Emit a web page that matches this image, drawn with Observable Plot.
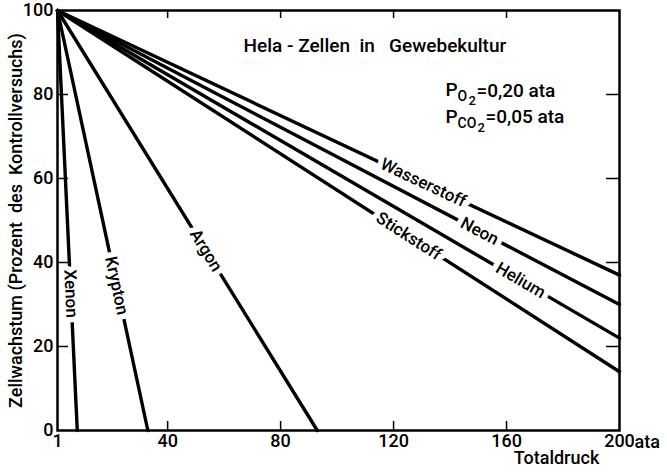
<!DOCTYPE html>
<html><head><meta charset="utf-8">
<script src="https://cdn.jsdelivr.net/npm/d3@7"></script>
<script src="https://cdn.jsdelivr.net/npm/@observablehq/plot@0.6"></script>
<style>
body{margin:0;background:#fff}
svg text{white-space:pre}
</style></head><body><div id="chart"></div>
<script>
// ---- data ----
const gases = ["Wasserstoff", "Neon", "Helium", "Stickstoff", "Argon", "Krypton", "Xenon"];
const endPressure = [200, 200, 200, 200, 93, 33, 8];   // Totaldruck (ata) at line end
const endGrowth = [37, 30, 22, 14, 0, 0, 0];           // Zellwachstum (%) at line end
const startPressure = 1;
const startGrowth = 100;
const xTicks = [1, 40, 80, 120, 160, 200];
const yTicks = [0, 20, 40, 60, 80, 100];

// ---- layout ----
const W = 667, H = 474, mL = 57, mR = 48, mT = 10, mB = 44;
const pw = W - mL - mR, ph = H - mT - mB;
const kx = pw / (200 - 1), ky = ph / 100;
const labelAt = [0.651, 0.751, 0.824, 0.625, 0.571, 0.655, 0.674]; // fraction along each line

const lines = gases.flatMap((g, i) => [
  {gas: g, p: startPressure, v: startGrowth},
  {gas: g, p: endPressure[i], v: endGrowth[i]}
]);
const labels = gases.map((g, i) => {
  const t = labelAt[i];
  return {
    gas: g,
    p: startPressure + t * (endPressure[i] - startPressure),
    v: startGrowth + t * (endGrowth[i] - startGrowth),
    angle: Math.atan2((startGrowth - endGrowth[i]) * ky, (endPressure[i] - startPressure) * kx) * 180 / Math.PI
  };
});

const font = "Roboto, 'DejaVu Sans', sans-serif";
const ann = (txt, x, y, size, extra = {}) =>
  Plot.text([txt], {frameAnchor: "top-left", dx: x - mL, dy: y - mT, textAnchor: "start",
    lineAnchor: "middle", fontSize: size, fontWeight: 500, ...extra});

const plot = Plot.plot({
  width: W, height: H,
  marginLeft: mL, marginRight: mR, marginTop: mT, marginBottom: mB,
  style: {fontFamily: font, fontSize: "18px", color: "#000", background: "#fff"},
  x: {domain: [1, 200]},
  y: {domain: [0, 100]},
  marks: [
    Plot.line(lines, {x: "p", y: "v", z: "gas", stroke: "#000", strokeWidth: 3.4}),
    Plot.text(labels, {x: "p", y: "v", text: "gas", rotate: "angle", fill: "#000",
      stroke: "#fff", strokeWidth: 11, fontSize: 17, fontWeight: 500, style: "letter-spacing:0.6px"}),
    Plot.frame({stroke: "#000", strokeWidth: 2.5}),
    Plot.ruleX(xTicks.slice(1, -1), {x: d => d, insetTop: ph - 9, stroke: "#000", strokeWidth: 1.5}),
    Plot.ruleX(xTicks.slice(1, -1), {x: d => d, insetBottom: ph - 8, stroke: "#000", strokeWidth: 1.5}),
    Plot.ruleY(yTicks.slice(1, -1), {y: d => d, insetRight: pw - 11, stroke: "#000", strokeWidth: 1.5}),
    Plot.ruleY(yTicks.slice(1, -1), {y: d => d, insetLeft: pw - 13, stroke: "#000", strokeWidth: 1.5}),
    Plot.axisX({ticks: xTicks, tickSize: 0, tickPadding: 4, label: null, fontSize: 18, fontWeight: 500}),
    Plot.axisY({ticks: yTicks, tickSize: 0, tickPadding: 4, label: null, fontSize: 18, fontWeight: 500}),
    ann("ata", 634, 442, 18),
    ann("Totaldruck", 556, 458, 18, {textAnchor: "middle", style: "letter-spacing:1px"}),
    Plot.text(["Zellwachstum (Prozent  des  Kontrollversuchs)"], {frameAnchor: "left", dx: -41,
      textAnchor: "middle", lineAnchor: "middle", rotate: -90, fontSize: 18, fontWeight: 500,
      style: "letter-spacing:2.6px"}),
    ann("Hela - Zellen  in   Gewebekultur", 243, 45, 19, {style: "letter-spacing:0.9px"}),
    ann("P", 445, 89, 19),
    ann("O", 457, 96, 14),
    ann("2", 468, 100, 13),
    ann("=0,20 ata", 476, 90, 19),
    ann("P", 445, 116, 19),
    ann("CO", 457, 123, 14),
    ann("2", 477, 127, 13),
    ann("=0,05 ata", 485, 116, 19)
  ]
});
document.getElementById("chart").appendChild(plot);
</script></body></html>
